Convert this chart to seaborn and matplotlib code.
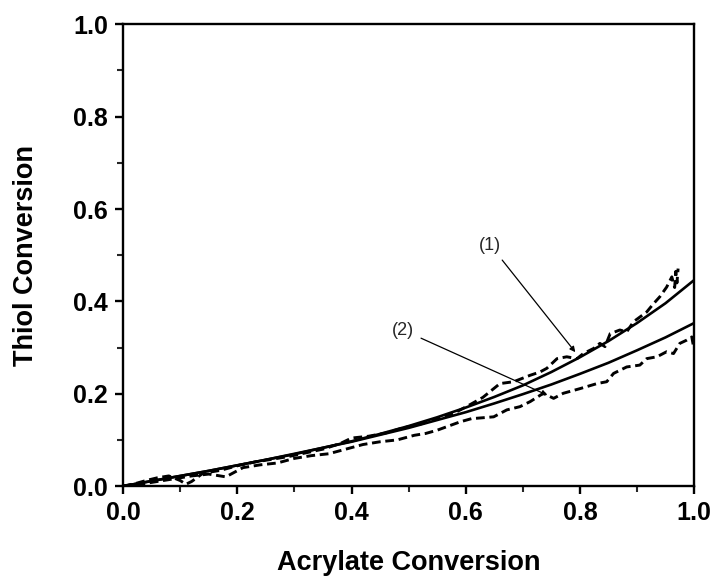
import matplotlib
matplotlib.use("Agg")
import matplotlib.pyplot as plt
import seaborn as sns
import pandas as pd

# ---------------- data ----------------
fit_x = [0.00, 0.05, 0.10, 0.15, 0.20, 0.25, 0.30, 0.35, 0.40, 0.45, 0.50,
         0.55, 0.60, 0.65, 0.70, 0.75, 0.80, 0.85, 0.90, 0.95, 1.00]
fit1_y = [0.000, 0.011, 0.022, 0.033, 0.045, 0.057, 0.069, 0.083, 0.097, 0.113, 0.130,
          0.149, 0.170, 0.193, 0.218, 0.247, 0.279, 0.314, 0.353, 0.396, 0.446]
fit2_y = [0.000, 0.011, 0.022, 0.033, 0.045, 0.057, 0.070, 0.083, 0.096, 0.111, 0.126,
          0.143, 0.160, 0.179, 0.199, 0.220, 0.243, 0.267, 0.294, 0.322, 0.353]

exp1_x = [0.00, 0.02, 0.04, 0.06, 0.08, 0.10, 0.11, 0.12, 0.14, 0.17, 0.20, 0.23,
          0.26, 0.29, 0.32, 0.35, 0.38, 0.40, 0.43, 0.46, 0.49, 0.52, 0.55, 0.58,
          0.61, 0.63, 0.660, 0.684, 0.713, 0.730, 0.742, 0.760, 0.777, 0.795, 0.806,
          0.824, 0.835, 0.844, 0.853, 0.870, 0.882, 0.894, 0.905, 0.917, 0.929,
          0.940, 0.952, 0.961, 0.966, 0.968, 0.970, 0.972]
exp1_y = [0.000, 0.005, 0.012, 0.018, 0.022, 0.012, 0.004, 0.010, 0.028, 0.034, 0.044, 0.052,
          0.058, 0.064, 0.072, 0.080, 0.092, 0.104, 0.108, 0.115, 0.126, 0.134, 0.146, 0.158,
          0.178, 0.192, 0.222, 0.226, 0.240, 0.247, 0.255, 0.276, 0.280, 0.276, 0.287,
          0.298, 0.309, 0.302, 0.330, 0.338, 0.334, 0.356, 0.366, 0.377, 0.395,
          0.410, 0.431, 0.453, 0.430, 0.465, 0.440, 0.471]

exp2_x = [0.00, 0.03, 0.06, 0.09, 0.12, 0.15, 0.18, 0.21, 0.24, 0.27, 0.30, 0.33,
          0.36, 0.39, 0.42, 0.45, 0.48, 0.51, 0.53, 0.55, 0.57, 0.59, 0.61, 0.63,
          0.649, 0.672, 0.695, 0.713, 0.736, 0.754, 0.771, 0.800, 0.830, 0.847,
          0.859, 0.882, 0.905, 0.917, 0.935, 0.952, 0.964, 0.975, 0.987, 0.996, 0.999]
exp2_y = [0.000, 0.004, 0.010, 0.016, 0.022, 0.026, 0.020, 0.040, 0.046, 0.050, 0.060, 0.066,
          0.070, 0.080, 0.090, 0.096, 0.100, 0.110, 0.114, 0.121, 0.130, 0.139, 0.146, 0.148,
          0.150, 0.165, 0.172, 0.183, 0.201, 0.190, 0.201, 0.211, 0.222, 0.226,
          0.244, 0.258, 0.262, 0.276, 0.280, 0.291, 0.287, 0.309, 0.316, 0.323, 0.302]

x_ticks = [0.0, 0.2, 0.4, 0.6, 0.8, 1.0]
y_ticks = [0.0, 0.2, 0.4, 0.6, 0.8, 1.0]
x_label = "Acrylate Conversion"
y_label = "Thiol Conversion"

# ---------------- plot ----------------
sns.set_theme(style="ticks")
plt.rcParams["font.family"] = ["Liberation Sans", "DejaVu Sans"]

fig = plt.figure(figsize=(7.2, 5.78), dpi=100)
ax = fig.add_axes([0.171, 0.159, 0.793, 0.799])

fit = pd.DataFrame({"x": fit_x, "y1": fit1_y, "y2": fit2_y})
e1 = pd.DataFrame({"x": exp1_x, "y": exp1_y})
e2 = pd.DataFrame({"x": exp2_x, "y": exp2_y})

sns.lineplot(data=e1, x="x", y="y", ax=ax, color="black", lw=2.1,
             estimator=None, sort=False, dashes=False)
sns.lineplot(data=e2, x="x", y="y", ax=ax, color="black", lw=2.1,
             estimator=None, sort=False, dashes=False)
for ln in ax.lines:
    ln.set_dashes((3.0, 1.6))
sns.lineplot(data=fit, x="x", y="y1", ax=ax, color="black", lw=1.9, estimator=None)
sns.lineplot(data=fit, x="x", y="y2", ax=ax, color="black", lw=1.9, estimator=None)

ax.set_xlim(0, 1.0)
ax.set_ylim(0, 1.0)
ax.set_xticks(x_ticks)
ax.set_yticks(y_ticks)
ax.set_xticklabels([f"{t:.1f}" for t in x_ticks])
ax.set_yticklabels([f"{t:.1f}" for t in y_ticks])
ax.set_xticks([0.1, 0.3, 0.5, 0.7, 0.9], minor=True)
ax.set_yticks([0.1, 0.3, 0.5, 0.7, 0.9], minor=True)

for s in ax.spines.values():
    s.set_visible(True)
    s.set_linewidth(1.7)
    s.set_color("black")

ax.tick_params(axis="both", which="major", direction="out", length=6, width=1.7,
               labelsize=18, colors="black", pad=5, top=False, right=False)
ax.tick_params(axis="both", which="minor", direction="out", length=4, width=1.5,
               top=False, right=False)
for lab in ax.get_xticklabels() + ax.get_yticklabels():
    lab.set_fontweight("bold")

ax.set_xlabel(x_label, fontsize=19.5, fontweight="bold", color="black", va="center")
ax.set_ylabel(y_label, fontsize=19.5, fontweight="bold", color="black", va="center")
ax.xaxis.set_label_coords(0.5, -(563 - 486) / 462)
ax.yaxis.set_label_coords(-(123 - 26) / 571, 0.5)

arrow = dict(arrowstyle="-|>", lw=0.9, color="black", mutation_scale=8,
             shrinkA=3, shrinkB=0)
ax.annotate("(1)", xy=(0.792, 0.290), xytext=(0.643, 0.522), fontsize=13,
            ha="center", va="center", arrowprops=arrow)
ax.annotate("(2)", xy=(0.743, 0.197), xytext=(0.490, 0.338), fontsize=13,
            ha="center", va="center", arrowprops=arrow)

fig.savefig("out.png", dpi=100, facecolor="white")
